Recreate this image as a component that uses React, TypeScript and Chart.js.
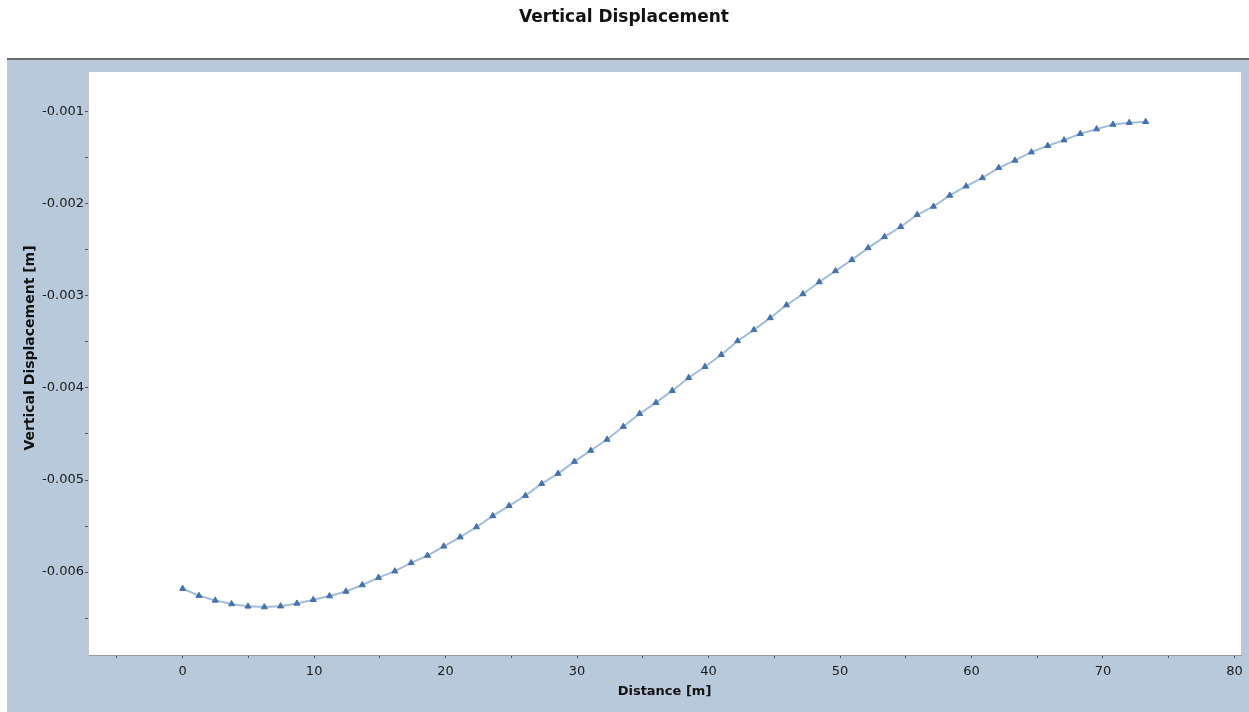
import { useEffect, useRef } from "react";
import { Chart, registerables } from "chart.js";

Chart.register(...registerables);

// Distance along the profile [m]
const distance = [
  0, 1.24, 2.48, 3.72, 4.97, 6.21, 7.45, 8.69, 9.93, 11.17,
  12.42, 13.66, 14.9, 16.14, 17.38, 18.62, 19.86, 21.11, 22.35, 23.59,
  24.83, 26.07, 27.31, 28.55, 29.8, 31.04, 32.28, 33.52, 34.76, 36.0,
  37.24, 38.49, 39.73, 40.97, 42.21, 43.45, 44.69, 45.93, 47.18, 48.42,
  49.66, 50.9, 52.14, 53.38, 54.62, 55.87, 57.11, 58.35, 59.59, 60.83,
  62.07, 63.31, 64.56, 65.8, 67.04, 68.28, 69.52, 70.76, 72.0, 73.25,
];

// Vertical displacement at each station [m]
const displacement = [
  -0.00618, -0.006256, -0.006307, -0.006346, -0.006372, -0.00638, -0.00637, -0.00634, -0.0063, -0.00626,
  -0.00621, -0.00614, -0.00606, -0.00599, -0.0059, -0.00582, -0.00572, -0.00562, -0.00551, -0.00539,
  -0.00528, -0.00517, -0.00504, -0.00493, -0.0048, -0.00468, -0.00456, -0.00442, -0.00428, -0.00416,
  -0.00403, -0.00389, -0.00377, -0.00364, -0.00349, -0.00337, -0.00324, -0.0031, -0.00298, -0.00285,
  -0.00273, -0.00261, -0.00248, -0.00236, -0.00225, -0.00212, -0.00203, -0.00191, -0.00181, -0.00172,
  -0.00161, -0.00153, -0.00144, -0.00137, -0.00131, -0.00124, -0.00119, -0.00114, -0.00112, -0.00111,
];

// Axis ticks
const xMajorTicks = [0, 10, 20, 30, 40, 50, 60, 70, 80];
const xTickLabels = ["0", "10", "20", "30", "40", "50", "60", "70", "80"];
const xMinorTicks = [-5, 5, 15, 25, 35, 45, 55, 65, 75];

const yMajorTicks = [-0.001, -0.002, -0.003, -0.004, -0.005, -0.006];
const yTickLabels = ["-0.001", "-0.002", "-0.003", "-0.004", "-0.005", "-0.006"];
const yMinorTicks = [-0.0015, -0.0025, -0.0035, -0.0045, -0.0055, -0.0065];

const X_MIN = -7.2;
const X_MAX = 80.5;
const Y_MIN = -0.0069;
const Y_MAX = -0.00057;

const Y_TITLE = "Vertical Displacement [m]";

const FONT = "'DejaVu Sans', Verdana, sans-serif";

function labelFor(value: number, majors: number[], labels: string[]): string {
  const i = majors.findIndex((m) => Math.abs(m - value) < 1e-9);
  return i >= 0 ? labels[i] : "";
}

// Blue-grey frame behind the plot, with a dark rule along its top and a white plotting area
const framePlugin = {
  id: "frame",
  beforeDraw(chart: any) {
    const { ctx, chartArea, width, height } = chart;
    ctx.save();
    ctx.fillStyle = "#ffffff";
    ctx.fillRect(0, 0, width, height);
    ctx.fillStyle = "#b8c9dc";
    ctx.fillRect(7, 59, width - 7, height - 59);
    ctx.fillStyle = "#6b6b6b";
    ctx.fillRect(7, 58, width - 7, 2);
    ctx.fillStyle = "#ffffff";
    ctx.fillRect(
      chartArea.left,
      chartArea.top,
      chartArea.right - chartArea.left,
      chartArea.bottom - chartArea.top
    );
    ctx.restore();
  },
  // Rotated title of the value axis, set a little above the middle of the plot
  afterDraw(chart: any) {
    const { ctx } = chart;
    ctx.save();
    ctx.translate(30, 348);
    ctx.rotate(-Math.PI / 2);
    ctx.font = `bold 14px ${FONT}`;
    ctx.fillStyle = "#111111";
    ctx.textAlign = "center";
    ctx.textBaseline = "middle";
    ctx.fillText(Y_TITLE, 0, 0);
    ctx.restore();
  },
};

export default function App() {
  const canvasRef = useRef<HTMLCanvasElement | null>(null);

  useEffect(() => {
    if (!canvasRef.current) return;
    const points = distance.map((x, i) => ({ x, y: displacement[i] }));

    const chart = new Chart(canvasRef.current, {
      type: "line",
      data: {
        datasets: [
          {
            data: points,
            borderColor: "#a2bcdc",
            borderWidth: 2,
            pointStyle: "triangle",
            pointRadius: 3.5,
            pointBackgroundColor: "#4572ab",
            pointBorderColor: "#4572ab",
            pointBorderWidth: 1,
            tension: 0,
            fill: false,
          },
        ],
      },
      options: {
        animation: false,
        responsive: false,
        devicePixelRatio: 1,
        layout: { padding: { left: 7, right: 8, top: 0, bottom: 0 } },
        plugins: {
          legend: { display: false },
          tooltip: { enabled: false },
          title: {
            display: true,
            text: "Vertical Displacement",
            color: "#111111",
            font: { family: FONT, size: 17, weight: "bold", lineHeight: 1.2 },
            padding: { top: 7.8, bottom: 43.8 },
          },
        },
        scales: {
          x: {
            type: "linear",
            min: X_MIN,
            max: X_MAX,
            afterBuildTicks: (scale: any) => {
              scale.ticks = [...xMinorTicks, ...xMajorTicks]
                .sort((a, b) => a - b)
                .map((value) => ({ value }));
            },
            afterFit: (scale: any) => {
              scale.height = 57;
            },
            ticks: {
              autoSkip: false,
              maxRotation: 0,
              padding: 6,
              color: "#1a1a1a",
              font: { family: FONT, size: 13 },
              callback: (value: any) => labelFor(Number(value), xMajorTicks, xTickLabels),
            },
            grid: {
              drawOnChartArea: false,
              drawTicks: true,
              tickLength: 3,
              tickColor: "#555555",
            },
            border: { display: true, color: "#9a9a9a", width: 1 },
            title: {
              display: true,
              text: "Distance [m]",
              color: "#111111",
              font: { family: FONT, size: 13, weight: "bold", lineHeight: 1.2 },
              padding: { top: 0, bottom: 12.2 },
            },
          },
          y: {
            type: "linear",
            min: Y_MIN,
            max: Y_MAX,
            afterBuildTicks: (scale: any) => {
              scale.ticks = [...yMinorTicks, ...yMajorTicks]
                .sort((a, b) => a - b)
                .map((value) => ({ value }));
            },
            afterFit: (scale: any) => {
              scale.width = 81;
            },
            ticks: {
              autoSkip: false,
              padding: 1,
              color: "#1a1a1a",
              font: { family: FONT, size: 13 },
              callback: (value: any) => labelFor(Number(value), yMajorTicks, yTickLabels),
            },
            grid: {
              drawOnChartArea: false,
              drawTicks: true,
              tickLength: 3,
              tickColor: "#555555",
            },
            border: { display: true, color: "#c4c4c4", width: 1 },
            title: { display: false },
          },
        },
      },
      plugins: [framePlugin],
    });

    return () => chart.destroy();
  }, []);

  return (
    <div style={{ position: "fixed", left: 0, top: 0, width: 1249, height: 712 }}>
      <canvas ref={canvasRef} width={1249} height={712} style={{ display: "block" }} />
    </div>
  );
}
